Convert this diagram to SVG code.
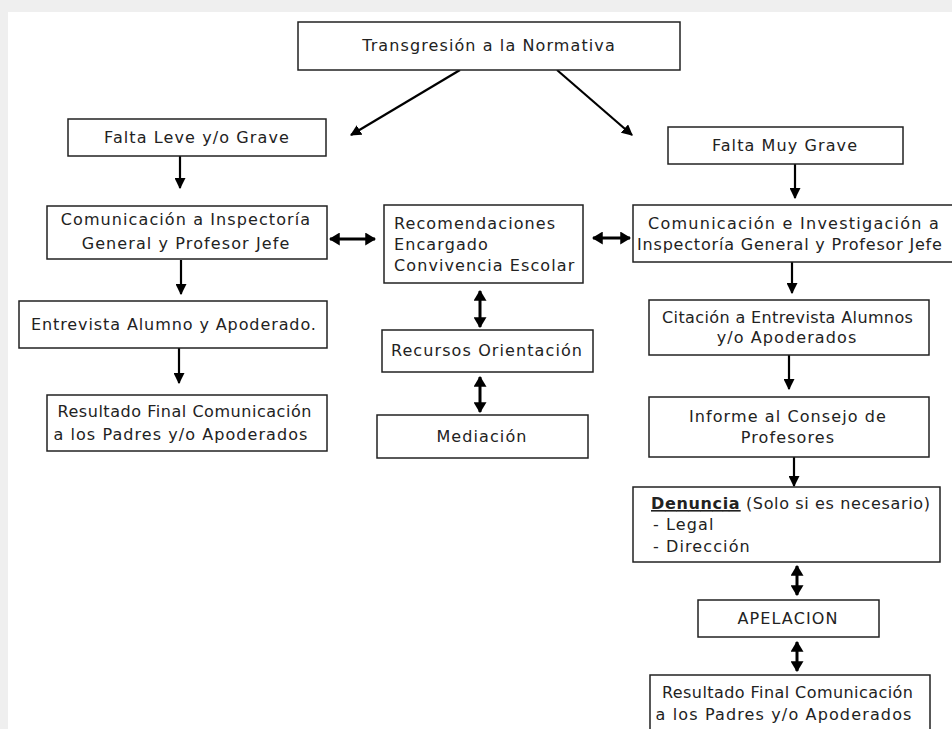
<svg xmlns="http://www.w3.org/2000/svg" width="952" height="729" viewBox="0 0 952 729">
<defs>
<marker id="ah" viewBox="0 0 10 10" refX="9" refY="5" markerWidth="11" markerHeight="11" markerUnits="userSpaceOnUse" orient="auto-start-reverse">
<path d="M0,0 L10,5 L0,10 Z" fill="#000"/>
</marker>
<marker id="ah2" viewBox="0 0 10 12" refX="9" refY="6" markerWidth="11" markerHeight="13" markerUnits="userSpaceOnUse" orient="auto-start-reverse">
<path d="M0,0 L10,6 L0,12 Z" fill="#000"/>
</marker>
<style>
.box{fill:#fff;stroke:#222;stroke-width:1.5}
.t{font-family:"DejaVu Sans",Verdana,sans-serif;font-size:16px;letter-spacing:1.1px;fill:#222}
.c{text-anchor:middle}
.ln{stroke:#000;stroke-width:2.2;fill:none;marker-end:url(#ah)}
.dl{stroke:#000;stroke-width:3;fill:none;marker-end:url(#ah2);marker-start:url(#ah2)}
</style>
</defs>
<rect x="0" y="0" width="952" height="729" fill="#efefef"/>
<rect x="8" y="12" width="944" height="717" fill="#fff"/>

<g id="connectors">
<line class="ln" x1="460" y1="70" x2="351" y2="135"/>
<line class="ln" x1="557" y1="70" x2="632" y2="135"/>
<line class="ln" x1="180" y1="156" x2="180" y2="188"/>
<line class="ln" x1="181" y1="260" x2="181" y2="294"/>
<line class="ln" x1="179" y1="348" x2="179" y2="383"/>
<line class="ln" x1="795" y1="164" x2="795" y2="198"/>
<line class="ln" x1="792" y1="262" x2="792" y2="293"/>
<line class="ln" x1="789" y1="355" x2="789" y2="389"/>
<line class="ln" x1="794" y1="457" x2="794" y2="486"/>
<line class="dl" x1="330" y1="239" x2="375" y2="239"/>
<line class="dl" x1="593" y1="238" x2="630" y2="238"/>
<line class="dl" x1="480" y1="291" x2="480" y2="327"/>
<line class="dl" x1="480" y1="377" x2="480" y2="412"/>
<line class="dl" x1="797" y1="566" x2="797" y2="595"/>
<line class="dl" x1="797" y1="642" x2="797" y2="671"/>
</g>

<g id="n-top"><rect class="box" x="298" y="22" width="382" height="48"/><text class="t c" x="489" y="51">Transgresión a la Normativa</text></g>
<g id="n-leve"><rect class="box" x="68" y="119" width="258" height="37"/><text class="t c" x="197" y="143">Falta Leve y/o Grave</text></g>
<g id="n-com-insp"><rect class="box" x="47" y="206" width="280" height="53"/><text class="t c" x="186" y="225">Comunicación a Inspectoría</text><text class="t c" x="186" y="249">General y Profesor Jefe</text></g>
<g id="n-entrevista"><rect class="box" x="19" y="301" width="308" height="47"/><text class="t c" x="174" y="330" textLength="286">Entrevista Alumno y Apoderado.</text></g>
<g id="n-res-left"><rect class="box" x="47" y="395" width="280" height="56"/><text class="t c" x="185" y="417" textLength="255">Resultado Final Comunicación</text><text class="t c" x="181" y="440" textLength="255">a los Padres y/o Apoderados</text></g>
<g id="n-recom"><rect class="box" x="384" y="205" width="199" height="78"/><text class="t" x="394" y="229">Recomendaciones</text><text class="t" x="394" y="250">Encargado</text><text class="t" x="394" y="271">Convivencia Escolar</text></g>
<g id="n-recursos"><rect class="box" x="382" y="330" width="211" height="42"/><text class="t c" x="487" y="356">Recursos Orientación</text></g>
<g id="n-mediacion"><rect class="box" x="377" y="415" width="211" height="43"/><text class="t c" x="482" y="442">Mediación</text></g>
<g id="n-muygrave"><rect class="box" x="668" y="127" width="235" height="37"/><text class="t c" x="785" y="151">Falta Muy Grave</text></g>
<g id="n-com-inv"><rect class="box" x="633" y="205" width="322" height="57"/><text class="t c" x="794" y="229" textLength="292">Comunicación e Investigación a</text><text class="t c" x="790" y="250" textLength="306">Inspectoría General y Profesor Jefe</text></g>
<g id="n-citacion"><rect class="box" x="649" y="300" width="280" height="55"/><text class="t c" x="788" y="323" textLength="252">Citación a Entrevista Alumnos</text><text class="t c" x="787" y="343">y/o Apoderados</text></g>
<g id="n-informe"><rect class="box" x="649" y="397" width="280" height="60"/><text class="t c" x="788" y="422">Informe al Consejo de</text><text class="t c" x="788" y="443">Profesores</text></g>
<g id="n-denuncia"><rect class="box" x="633" y="487" width="307" height="75"/><text class="t" x="651" y="509" textLength="280"><tspan font-weight="bold" text-decoration="underline">Denuncia</tspan> (Solo si es necesario)</text><text class="t" x="653" y="530">- Legal</text><text class="t" x="653" y="552">- Dirección</text></g>
<g id="n-apelacion"><rect class="box" x="698" y="600" width="181" height="37"/><text class="t c" x="788" y="624">APELACION</text></g>
<g id="n-res-right"><rect class="box" x="650" y="675" width="280" height="60"/><text class="t c" x="788" y="698" textLength="252">Resultado Final Comunicación</text><text class="t c" x="784" y="720" textLength="257">a los Padres y/o Apoderados</text></g>
</svg>
